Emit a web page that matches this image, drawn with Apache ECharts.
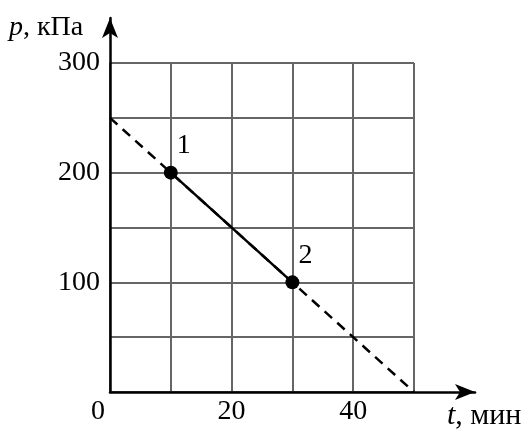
<!DOCTYPE html>
<html><head><meta charset="utf-8">
<script src="https://cdn.jsdelivr.net/npm/echarts@6/dist/echarts.min.js"></script>
<style>html,body{margin:0;padding:0;background:#fff}#c{width:526px;height:430px}</style>
</head><body><div id="c"></div>
<script>
// Data
const lineT = [0, 50];          // dashed line endpoints, t (min)
const lineP = [250, 0];         // dashed line endpoints, p (kPa)
const pointT = [10, 30];        // states 1 and 2, t
const pointP = [200, 100];      // states 1 and 2, p
const pointLabels = ['1', '2'];
const xTickLabels = [0, 20, 40];
const yTickLabels = [100, 200, 300];

const font = 'Liberation Serif';
const chart = echarts.init(document.getElementById('c'));
chart.setOption({
  animation: false,
  backgroundColor: '#fff',
  grid: [
    {left: 110, top: 63, right: 112, bottom: 38},
    {left: 110, top: 18, right: 51, bottom: 38}
  ],
  xAxis: [
    {gridIndex: 0, type: 'value', min: 0, max: 50, interval: 10,
     axisLine: {show: false}, axisTick: {show: false},
     splitLine: {show: true, lineStyle: {color: '#666', width: 2}},
     axisLabel: {margin: 6, color: '#000', fontFamily: font, fontSize: 28,
       formatter: v => v === 0 ? '{o|0}' : (xTickLabels.indexOf(v) >= 0 ? String(v) : ''),
       rich: {o: {fontFamily: font, fontSize: 28, color: '#000', padding: [0, 24, 0, 0]}}}},
    {gridIndex: 1, type: 'value', min: 0, max: 60,
     axisLine: {show: true, symbol: ['none', 'arrow'], symbolSize: [12, 20], lineStyle: {color: '#000', width: 2.5}},
     axisTick: {show: false}, axisLabel: {show: false}, splitLine: {show: false}}
  ],
  yAxis: [
    {gridIndex: 0, type: 'value', min: 0, max: 300, interval: 50,
     axisLine: {show: false}, axisTick: {show: false},
     splitLine: {show: true, lineStyle: {color: '#666', width: 2}},
     axisLabel: {margin: 10, color: '#000', fontFamily: font, fontSize: 28,
       formatter: v => yTickLabels.indexOf(v) >= 0 ? String(v) : ''}},
    {gridIndex: 1, type: 'value', min: 0, max: 340,
     axisLine: {show: true, symbol: ['none', 'arrow'], symbolSize: [12, 20], lineStyle: {color: '#000', width: 2.5}},
     axisTick: {show: false}, axisLabel: {show: false}, splitLine: {show: false}}
  ],
  graphic: [
    {type: 'text', left: 9, top: 14, style: {text: '{i|p}, кПа', fill: '#000', font: '28px "Liberation Serif"',
      rich: {i: {fontFamily: font, fontStyle: 'italic', fontSize: 28, fill: '#000'}}}},
    {type: 'text', left: 447, top: 401, style: {text: '{i|t}, мин', fill: '#000', font: '30px "Liberation Serif"',
      rich: {i: {fontFamily: font, fontStyle: 'italic', fontSize: 30, fill: '#000'}}}}
  ],
  series: [
    {type: 'line', xAxisIndex: 0, yAxisIndex: 0, symbol: 'none', z: 3,
     data: lineT.map((t, i) => [t, lineP[i]]),
     lineStyle: {color: '#000', width: 2.5, type: [10, 7]}},
    {type: 'line', xAxisIndex: 0, yAxisIndex: 0, symbol: 'none', z: 4,
     data: pointT.map((t, i) => [t, pointP[i]]),
     lineStyle: {color: '#000', width: 2.5}},
    {type: 'scatter', xAxisIndex: 0, yAxisIndex: 0, symbolSize: 14, z: 5,
     itemStyle: {color: '#000', opacity: 1},
     data: pointT.map((t, i) => ({value: [t, pointP[i]], name: pointLabels[i]})),
     label: {show: true, position: 'top', distance: 6, offset: [13, 0], formatter: p => p.name,
       color: '#000', opacity: 1, fontFamily: font, fontSize: 28}}
  ]
});
</script></body></html>
